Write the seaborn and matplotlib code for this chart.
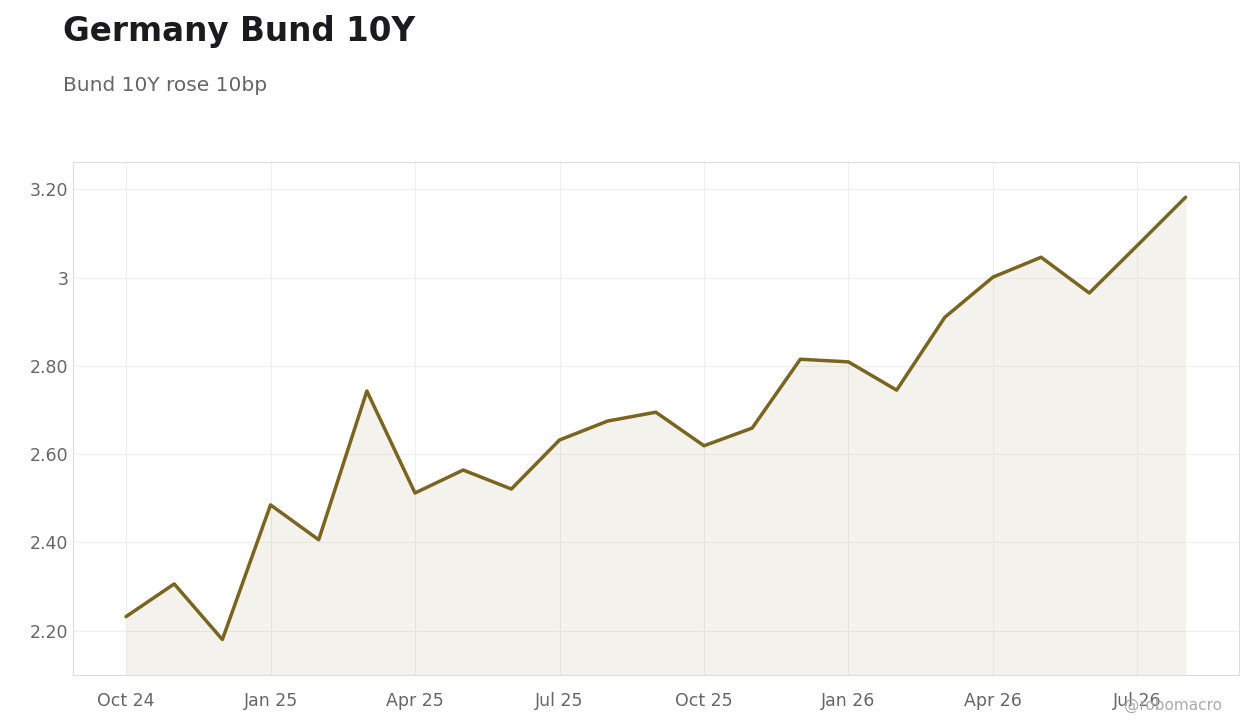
import matplotlib
matplotlib.use("Agg")
import matplotlib.pyplot as plt
import pandas as pd
import seaborn as sns

months = pd.date_range("2024-10-01", "2026-08-01", freq="MS")
yields = [2.232, 2.306, 2.180, 2.485, 2.406, 2.743, 2.512, 2.564, 2.521, 2.632,
          2.675, 2.695, 2.619, 2.659, 2.815, 2.809, 2.745, 2.910, 3.001, 3.046,
          2.965, 3.073, 3.182]
ytick_vals = [2.2, 2.4, 2.6, 2.8, 3.0, 3.2]
ytick_labels = ["2.20", "2.40", "2.60", "2.80", "3", "3.20"]

# evenly spaced by month index, as in the reference
df = pd.DataFrame({"idx": range(len(months)), "yield": yields})
xtick_pos = [i for i, d in enumerate(months) if d.month in (1, 4, 7, 10)]
xtick_labels = [months[i].strftime("%b %y") for i in xtick_pos]

sns.set_style("white")
plt.rcParams["font.family"] = ["DejaVu Sans"]
line_color = "#7a6520"

fig = plt.figure(figsize=(12.6, 7.28), dpi=100)
ax = fig.add_axes([0.058, 0.073, 0.925, 0.704])
sns.lineplot(data=df, x="idx", y="yield", ax=ax, color=line_color, linewidth=2.5)
ax.fill_between(df["idx"], df["yield"], 2.1, color=line_color, alpha=0.08, linewidth=0)

ax.set_ylim(2.1, 3.261)
ax.set_xlim(-1.1, 23.1)
ax.set_yticks(ytick_vals)
ax.set_yticklabels(ytick_labels)
ax.set_xticks(xtick_pos)
ax.set_xticklabels(xtick_labels)
ax.set_xlabel("")
ax.set_ylabel("")
ax.grid(True, color="#eeeeee", linewidth=0.8)
ax.tick_params(colors="#666666", labelsize=12.5, length=0)
ax.tick_params(axis="x", pad=12)
for s in ax.spines.values():
    s.set_color("#dddddd")

fig.text(0.05, 0.957, "Germany Bund 10Y", fontsize=23.5, fontweight="bold", color="#1a1a1f", va="center")
fig.text(0.05, 0.883, "Bund 10Y rose 10bp", fontsize=14.5, color="#666666", va="center")
fig.text(0.97, 0.031, "@robomacro", fontsize=11, color="#aaaaaa", ha="right", va="center")

fig.savefig("out.png", dpi=100)
